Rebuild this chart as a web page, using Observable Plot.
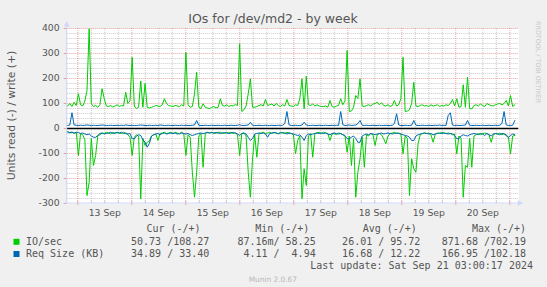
<!DOCTYPE html>
<html><head><meta charset="utf-8">
<script src="https://cdn.jsdelivr.net/npm/d3@7"></script>
<script src="https://cdn.jsdelivr.net/npm/@observablehq/plot@0.6"></script>
<style>
html,body{margin:0;padding:0;background:#F0F0F0;}
#chart{position:relative;width:547px;height:287px;overflow:hidden;}
</style></head><body><div id="chart"></div>
<script>
const title = "IOs for /dev/md2 - by week";
const yLabel = "Units read (-) / write (+)";
const sampleStart = "2024-09-12T18:32:00Z";
const sampleStepMinutes = 57.33;
// IO/sec write (+)
const ioWrite = [
 95,90,100,88,105,92,139,95,90,110,
 152,399,100,88,92,85,95,159,120,90,
 88,92,86,90,95,88,92,90,145,100,
 110,285,90,80,85,190,85,180,85,82,
 85,88,92,90,88,95,119,100,92,90,
 88,92,90,88,95,90,305,95,85,88,
 139,225,85,80,99,85,82,80,85,88,
 82,85,119,92,90,95,88,92,90,96,
 92,339,68,75,90,139,199,85,85,88,
 92,95,90,116,92,95,98,90,100,92,
 88,95,90,116,92,90,88,95,92,120,
 199,79,209,95,92,98,90,95,90,88,
 88,90,85,112,88,85,90,92,119,95,
 110,312,68,70,85,132,120,199,90,88,
 92,95,90,98,100,105,95,103,92,90,
 95,88,92,112,90,95,120,285,68,70,
 75,100,185,90,88,92,95,90,92,88,
 95,90,92,95,88,92,90,95,92,100,
 116,90,119,85,88,175,85,205,80,78,
 92,95,90,98,92,88,100,95,92,90,
 95,98,100,95,100,112,90,132,88,95];
// IO/sec read (-)
const ioRead = [
 15,12,18,14,20,15,108,20,25,45,
 268,215,40,148,108,30,25,18,20,15,
 18,22,15,20,15,18,20,15,20,25,
 35,108,35,25,30,281,40,68,55,50,
 30,25,22,48,20,18,15,20,18,15,
 20,15,18,22,15,20,108,25,35,175,
 275,175,30,20,155,20,15,18,15,20,
 18,15,15,18,20,15,18,15,20,18,
 25,108,20,18,30,175,275,121,25,115,
 20,18,15,20,18,15,20,15,18,22,
 15,18,20,15,18,20,25,101,48,30,
 281,161,228,30,20,115,20,18,15,20,
 15,18,20,48,22,20,25,18,20,25,
 30,95,30,148,40,275,175,121,35,155,
 25,30,20,25,68,25,20,25,41,61,
 30,20,18,15,20,18,22,101,30,40,
 268,121,161,175,61,25,20,18,20,18,
 25,55,22,18,20,15,18,20,18,20,
 25,22,101,30,40,275,148,155,40,155,
 30,25,20,25,22,18,20,25,55,25,
 20,22,18,25,20,30,35,101,30,28];
// Req Size write (+)
const reqWrite = [
 13,12,14,63,14,13,12,13,12,13,
 14,13,12,13,12,12,13,14,13,12,
 12,13,12,12,13,12,13,12,14,13,
 12,13,12,12,13,14,13,12,12,13,
 12,12,13,12,14,13,12,12,13,12,
 12,13,12,12,13,12,13,12,12,13,
 14,32,13,12,12,13,12,12,13,12,
 12,13,12,12,13,12,12,13,12,12,
 13,15,12,12,13,14,25,13,12,12,
 13,12,12,13,12,12,13,12,12,13,
 12,13,20,68,14,12,12,13,12,12,
 14,25,14,12,12,13,12,12,13,12,
 12,13,12,12,13,12,13,12,68,15,
 12,13,14,12,13,14,20,32,13,12,
 13,12,12,13,12,12,13,12,12,13,
 12,12,13,20,59,14,12,12,13,12,
 12,13,32,13,12,12,13,12,12,13,
 12,12,13,12,14,12,13,12,52,63,
 14,12,13,12,12,13,14,32,13,12,
 12,13,12,12,13,12,12,13,12,12,
 13,12,13,20,68,14,12,12,13,32];
// Req Size read (-)
const reqRead = [
 15,14,16,15,18,15,16,20,18,22,
 25,22,30,35,35,28,20,18,22,20,
 18,15,20,18,16,18,15,20,18,22,
 20,41,41,30,25,28,45,55,75,60,
 30,25,22,20,25,20,18,22,20,18,
 20,18,22,20,18,20,22,20,25,28,
 25,22,20,18,20,18,16,18,16,18,
 16,18,20,18,16,18,20,18,16,18,
 22,28,20,18,22,35,48,40,22,20,
 18,20,18,22,35,20,18,16,18,20,
 18,16,18,22,18,20,22,25,28,25,
 35,48,28,22,25,22,20,18,20,18,
 20,18,22,25,20,18,20,22,20,25,
 28,41,41,35,30,40,55,55,30,25,
 22,25,20,22,25,22,20,18,22,20,
 18,20,22,20,18,20,22,25,28,30,
 35,48,48,30,25,22,20,18,20,22,
 20,25,22,20,18,20,18,20,22,20,
 22,28,41,41,30,25,28,30,25,22,
 20,22,25,20,22,28,20,25,30,22,
 20,22,25,20,22,25,35,28,22,25];
const dayDates = ["2024-09-13","2024-09-14","2024-09-15","2024-09-16","2024-09-17","2024-09-18","2024-09-19","2024-09-20"];
const dayLabels = ["13 Sep","14 Sep","15 Sep","16 Sep","17 Sep","18 Sep","19 Sep","20 Sep"];
const yTicks = [-300,-200,-100,0,100,200,300,400];
const legendHeaders = ["Cur (-/+)","Min (-/+)","Avg (-/+)","Max (-/+)"];
const legendSeries = ["IO/sec","Req Size (KB)"];
const legendColors = ["#00CC00","#0066B3"];
const ioStats = ["50.73 /108.27","87.16m/ 58.25","26.01 / 95.72","871.68 /702.19"];
const reqStats = ["34.89 / 33.40","4.11 /  4.94","16.68 / 12.22","166.95 /102.18"];
const lastUpdate = "Last update: Sat Sep 21 03:00:17 2024";
const version = "Munin 2.0.67";
const watermark = "RRDTOOL / TOBI OETIKER";

const GRID = "rgba(140,140,140,0.45)";
const MGRID = "rgba(210,60,60,0.45)";
const AXIS = "#CFD6F8";
const FONT = "#555";

const t0 = Date.parse(sampleStart), stepMs = sampleStepMinutes * 60000;
const rows = ioWrite.map((v, i) => ({
  t: new Date(t0 + i * stepMs), ioW: v, ioR: -ioRead[i], rqW: reqWrite[i], rqR: -reqRead[i]
}));
const xDomain = [new Date("2024-09-12T19:17:00Z"), new Date("2024-09-21T04:00:00Z")];
const midnights = d3.utcDay.range(xDomain[0], xDomain[1]);
const sixHours = d3.utcHour.every(6).range(xDomain[0], xDomain[1]).filter(d => d.getUTCHours() !== 0);
const yMinor = d3.range(-280, 400, 20).filter(v => v % 100 !== 0);
const dayLabelData = dayDates.map((d, i) => ({t: new Date(d + "T12:00:00Z"), label: dayLabels[i]}));

const chart = Plot.plot({
  width: 547, height: 287,
  marginLeft: 66.7, marginRight: 28.7, marginTop: 28, marginBottom: 84,
  style: {background: "transparent", fontFamily: "'DejaVu Sans', sans-serif", fontSize: "9.3px", color: FONT, overflow: "visible"},
  x: {type: "utc", domain: xDomain, axis: null},
  y: {domain: [-300, 400], label: null},
  marks: [
    Plot.frame({fill: "white", stroke: "none"}),
    Plot.ruleY(yMinor, {stroke: GRID, strokeDasharray: "1,1"}),
    Plot.ruleX(sixHours, {stroke: GRID, strokeDasharray: "1,1"}),
    Plot.ruleY(yTicks.filter(v => v > -300), {stroke: MGRID, strokeDasharray: "1,1"}),
    Plot.ruleX(midnights, {stroke: MGRID, strokeDasharray: "1,1"}),
    Plot.ruleX(midnights, {y1: -308, y2: -292, stroke: MGRID}),
    Plot.ruleX(sixHours, {y1: -300, y2: -292, stroke: GRID}),
    Plot.line(rows, {x: "t", y: "ioR", stroke: "#00CC00", strokeWidth: 1, clip: true}),
    Plot.line(rows, {x: "t", y: "ioW", stroke: "#00CC00", strokeWidth: 1, clip: true}),
    Plot.line(rows, {x: "t", y: "rqR", stroke: "#0066B3", strokeWidth: 1, clip: true}),
    Plot.line(rows, {x: "t", y: "rqW", stroke: "#0066B3", strokeWidth: 1, clip: true}),
    Plot.ruleY([0], {stroke: "black", strokeWidth: 1.5}),
    Plot.axisY(yTicks, {tickSize: 3, tickPadding: 4.5, stroke: MGRID, fill: FONT, fontSize: 9.3, tickFormat: d => String(d)}),
    Plot.text(dayLabelData, {x: "t", text: "label", frameAnchor: "bottom", lineAnchor: "middle", dy: 10, fontSize: 9.3, fill: FONT})
  ]
});
document.getElementById("chart").appendChild(chart);

const xs = v => chart.scale("x").apply(v);
const ys = v => chart.scale("y").apply(v);
const svg = d3.select(chart);
const X0 = xs(xDomain[0]), X1 = xs(xDomain[1]), Y0 = ys(-300), Ytop = ys(400);
// axes + arrows
svg.append("line").attr("x1", X0).attr("x2", X0).attr("y1", Y0).attr("y2", Ytop - 2).attr("stroke", AXIS);
svg.append("line").attr("x1", X0 - 2).attr("x2", X1 + 1).attr("y1", Y0).attr("y2", Y0).attr("stroke", AXIS);
svg.append("path").attr("d", `M${X0},${Ytop - 7}L${X0 - 2.8},${Ytop - 1.5}L${X0 + 2.8},${Ytop - 1.5}Z`).attr("fill", AXIS);
svg.append("path").attr("d", `M${X1 + 5},${Y0}L${X1 - 0.5},${Y0 - 2.8}L${X1 - 0.5},${Y0 + 2.8}Z`).attr("fill", AXIS);

// title & y label
svg.append("text").attr("x", 273).attr("y", 23).attr("text-anchor", "middle")
  .attr("font-family", "'DejaVu Sans', sans-serif").attr("font-size", 12.5).attr("fill", FONT).text(title);
svg.append("text").attr("transform", `translate(11,${(Y0 + Ytop) / 2}) rotate(-90)`).attr("text-anchor", "middle")
  .attr("dy", "0.35em").attr("font-family", "'DejaVu Sans', sans-serif").attr("font-size", 10.8).attr("fill", FONT).text(yLabel);
svg.append("text").attr("transform", "translate(535.5,21) rotate(90)").attr("text-anchor", "start")
  .attr("font-family", "'DejaVu Sans', sans-serif").attr("font-size", 6.4).attr("fill", "#c8c8c8").text(watermark);

// legend
const lg = svg.append("g").attr("font-family", "'DejaVu Sans Mono', monospace").attr("font-size", 10)
  .attr("fill", FONT).attr("text-anchor", "start").style("white-space", "pre");
const headRight = [200.6, 309.4, 416.9, 526.1];
const valRight = [209.3, 315.7, 420.4, 526.1];
legendHeaders.forEach((h, i) => lg.append("text").attr("x", headRight[i]).attr("y", 232).attr("text-anchor", "end").text(h));
[ioStats, reqStats].forEach((stats, r) => {
  const y = 244.8 + r * 12.2;
  lg.append("rect").attr("x", 13.5).attr("y", y - 6).attr("width", 6).attr("height", 6).attr("fill", legendColors[r]);
  lg.append("text").attr("x", 26).attr("y", y).attr("text-anchor", "start").text(legendSeries[r]);
  stats.forEach((s, i) => lg.append("text").attr("x", valRight[i]).attr("y", y).attr("text-anchor", "end").text(s));
});
lg.append("text").attr("x", 533).attr("y", 269.3).attr("text-anchor", "end").text(lastUpdate);
svg.append("text").attr("x", 272.8).attr("y", 281.5).attr("text-anchor", "middle")
  .attr("font-family", "'DejaVu Sans', sans-serif").attr("font-size", 7.4).attr("fill", "#b8b8b8").text(version);
</script></body></html>
